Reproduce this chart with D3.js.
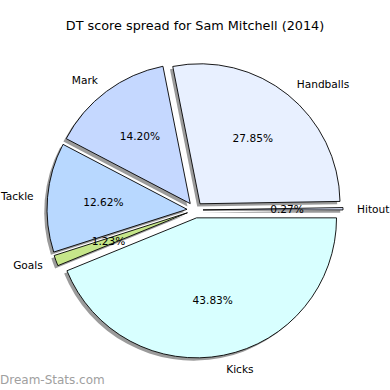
<!DOCTYPE html>
<html>
<head>
<meta charset="utf-8">
<script src="https://cdn.jsdelivr.net/npm/d3@7"></script>
<style>
  body { margin: 0; background: #fff; }
  svg { display: block; }
</style>
</head>
<body>
<div id="chart"></div>
<script>
// data
const categories = ['Hitout', 'Handballs', 'Mark', 'Tackle', 'Goals', 'Kicks'];
const shares = [0.27, 27.85, 14.20, 12.62, 1.23, 43.83];
const colors = ['#e0e8ff', '#e8f0ff', '#c5d8ff', '#b8d8ff', '#c6e68a', '#d8ffff'];

const width = 390;
const height = 390;
const cx = 195; // pie centre
const cy = 210;
const radius = 140;
const explode = 8; // px pushed out along each slice's mid angle
const shadowDx = -2.8;
const shadowDy = 2.8;

const svg = d3
    .select('#chart')
    .append('svg')
    .attr('width', width)
    .attr('height', height)
    .attr('viewBox', [0, 0, width, height]);

// title
svg.append('text')
    .attr('x', width / 2)
    .attr('y', 25)
    .attr('text-anchor', 'middle')
    .attr('dominant-baseline', 'central')
    .attr('font-family', 'DejaVu Sans, sans-serif')
    .attr('font-size', 12.8)
    .attr('fill', '#000')
    .text('DT score spread for Sam Mitchell (2014)');

// matplotlib style: start at 3 o'clock, go counterclockwise
const pie = d3
    .pie()
    .sort(null)
    .value((d) => d)
    .startAngle(Math.PI / 2)
    .endAngle(Math.PI / 2 - 2 * Math.PI);

const arcs = pie(shares);
const arc = d3.arc().innerRadius(0).outerRadius(radius);

const mid = (a) => (a.startAngle + a.endAngle) / 2;
const offset = (a, dist) => [Math.sin(mid(a)) * dist, -Math.cos(mid(a)) * dist];

const g = svg.append('g').attr('transform', `translate(${cx},${cy})`);

// shadows first, then wedges on top
g.append('g')
    .selectAll('path')
    .data(arcs)
    .join('path')
    .attr('transform', (a) => {
        const [dx, dy] = offset(a, explode);
        return `translate(${dx + shadowDx},${dy + shadowDy})`;
    })
    .attr('d', arc)
    .attr('fill', '#8a8a8a')
    .attr('fill-opacity', 0.85);

g.append('g')
    .selectAll('path')
    .data(arcs)
    .join('path')
    .attr('transform', (a) => {
        const [dx, dy] = offset(a, explode);
        return `translate(${dx},${dy})`;
    })
    .attr('d', arc)
    .attr('fill', (a, i) => colors[i])
    .attr('stroke', '#000')
    .attr('stroke-width', 0.9)
    .attr('stroke-linejoin', 'round');

// category labels at 1.1 r
g.append('g')
    .attr('font-family', 'DejaVu Sans, sans-serif')
    .attr('font-size', 10.6)
    .selectAll('text')
    .data(arcs)
    .join('text')
    .attr('x', (a) => offset(a, explode + 1.1 * radius)[0])
    .attr('y', (a) => offset(a, explode + 1.1 * radius)[1])
    .attr('text-anchor', (a) => (Math.sin(mid(a)) > 0 ? 'start' : 'end'))
    .attr('dominant-baseline', 'central')
    .text((a, i) => categories[i]);

// percentages at 0.6 r
g.append('g')
    .attr('font-family', 'DejaVu Sans, sans-serif')
    .attr('font-size', 10.6)
    .attr('text-anchor', 'middle')
    .selectAll('text')
    .data(arcs)
    .join('text')
    .attr('x', (a) => offset(a, explode + 0.6 * radius)[0])
    .attr('y', (a) => offset(a, explode + 0.6 * radius)[1])
    .attr('dominant-baseline', 'central')
    .text((a) => d3.format('.2f')(a.data) + '%');

// watermark
svg.append('text')
    .attr('x', 0)
    .attr('y', 380)
    .attr('dominant-baseline', 'central')
    .attr('font-family', 'DejaVu Sans, sans-serif')
    .attr('font-size', 12)
    .attr('fill', '#a0a0a0')
    .text('Dream-Stats.com');
</script>
</body>
</html>
